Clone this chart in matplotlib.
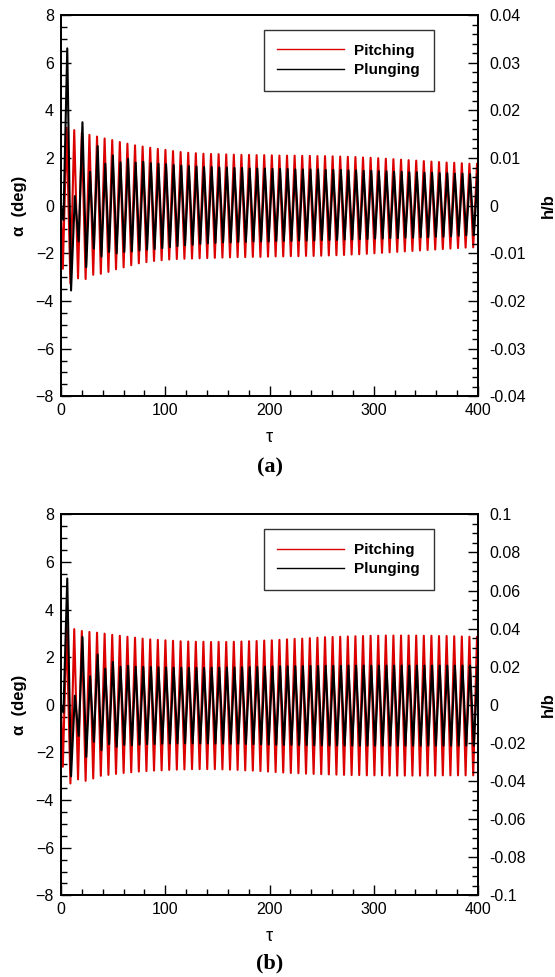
import numpy as np
import matplotlib
matplotlib.use("Agg")
import matplotlib.pyplot as plt
from matplotlib.ticker import MultipleLocator, FuncFormatter

plt.rcParams['font.family'] = ['Liberation Sans', 'DejaVu Sans']

# extrema: troughs/peaks alternate every half period
first_trough_tau = 1.75
half_period = 3.645
plunge_lag = 0.6

# ---- panel (a) ----
pitch_trough_a = [-2.65, -3.26, -3.05, -3.08, -2.90, -2.86, -2.78, -2.67, -2.59, -2.50,
                  -2.42, -2.37, -2.32, -2.29, -2.26, -2.24, -2.23, -2.22, -2.21, -2.20,
                  -2.19, -2.18, -2.17, -2.16, -2.16, -2.15, -2.15, -2.14, -2.13, -2.13,
                  -2.12, -2.12, -2.11, -2.11, -2.10, -2.09, -2.08, -2.07, -2.05, -2.04,
                  -2.02, -2.00, -1.98, -1.96, -1.94, -1.92, -1.90, -1.88, -1.86, -1.84,
                  -1.82, -1.80, -1.78, -1.76, -1.75]
pitch_peak_a = [3.27, 3.17, 3.05, 2.97, 2.90, 2.82, 2.75, 2.67, 2.60, 2.53,
                2.48, 2.43, 2.38, 2.34, 2.29, 2.25, 2.22, 2.20, 2.18, 2.17,
                2.16, 2.15, 2.14, 2.13, 2.13, 2.12, 2.12, 2.11, 2.10, 2.10,
                2.10, 2.09, 2.09, 2.08, 2.08, 2.07, 2.06, 2.05, 2.04, 2.02,
                2.01, 1.99, 1.97, 1.95, 1.93, 1.91, 1.89, 1.87, 1.85, 1.83,
                1.81, 1.80, 1.78, 1.76, 1.75]
plunge_trough_a = [-0.0030, -0.0178, -0.0075, -0.0129, -0.0090, -0.0107, -0.0097, -0.0100, -0.0097, -0.0096,
                   -0.0094, -0.0092, -0.0091, -0.0089, -0.0087, -0.0085, -0.0083, -0.0082, -0.0080, -0.0079,
                   -0.0078, -0.0077, -0.0077, -0.0076, -0.0076, -0.0075, -0.0075, -0.0075, -0.0074, -0.0074,
                   -0.0074, -0.0073, -0.0073, -0.0073, -0.0072, -0.0072, -0.0072, -0.0071, -0.0071, -0.0070,
                   -0.0070, -0.0069, -0.0069, -0.0068, -0.0068, -0.0067, -0.0067, -0.0066, -0.0066, -0.0065,
                   -0.0065, -0.0064, -0.0063, -0.0062, -0.0062]
plunge_peak_a = [0.0330, 0.0020, 0.0175, 0.0071, 0.0125, 0.0088, 0.0105, 0.0091, 0.0098, 0.0090,
                 0.0092, 0.0089, 0.0088, 0.0087, 0.0085, 0.0084, 0.0083, 0.0082, 0.0081, 0.0081,
                 0.0080, 0.0080, 0.0079, 0.0079, 0.0078, 0.0078, 0.0078, 0.0077, 0.0077, 0.0077,
                 0.0076, 0.0076, 0.0076, 0.0076, 0.0075, 0.0075, 0.0075, 0.0074, 0.0074, 0.0073,
                 0.0073, 0.0072, 0.0072, 0.0071, 0.0071, 0.0070, 0.0070, 0.0069, 0.0069, 0.0068,
                 0.0068, 0.0067, 0.0067, 0.0066, 0.0066]

# ---- panel (b) ----
pitch_trough_b = [-2.60, -3.30, -3.13, -3.19, -3.09, -2.98, -2.94, -2.90, -2.86, -2.83,
                  -2.80, -2.78, -2.76, -2.75, -2.73, -2.72, -2.71, -2.70, -2.70, -2.70,
                  -2.70, -2.71, -2.72, -2.73, -2.75, -2.76, -2.78, -2.80, -2.82, -2.84,
                  -2.86, -2.87, -2.89, -2.90, -2.91, -2.92, -2.93, -2.94, -2.95, -2.95,
                  -2.96, -2.96, -2.96, -2.97, -2.97, -2.97, -2.97, -2.97, -2.97, -2.97,
                  -2.96, -2.96, -2.96, -2.96, -2.96]
pitch_peak_b = [3.27, 3.18, 3.10, 3.06, 3.03, 2.99, 2.94, 2.90, 2.86, 2.82,
                2.78, 2.75, 2.73, 2.71, 2.69, 2.67, 2.66, 2.65, 2.65, 2.64,
                2.64, 2.64, 2.65, 2.66, 2.67, 2.68, 2.70, 2.71, 2.73, 2.75,
                2.77, 2.78, 2.80, 2.82, 2.84, 2.85, 2.86, 2.87, 2.88, 2.89,
                2.90, 2.90, 2.91, 2.91, 2.91, 2.91, 2.91, 2.90, 2.90, 2.89,
                2.89, 2.88, 2.87, 2.86, 2.85]
plunge_trough_b = [-0.0040, -0.0375, -0.0163, -0.0273, -0.0194, -0.0238, -0.0206, -0.0220, -0.0210, -0.0212,
                   -0.0208, -0.0206, -0.0205, -0.0204, -0.0203, -0.0202, -0.0202, -0.0202, -0.0202, -0.0202,
                   -0.0203, -0.0203, -0.0204, -0.0204, -0.0205, -0.0206, -0.0207, -0.0208, -0.0209, -0.0210,
                   -0.0210, -0.0211, -0.0211, -0.0212, -0.0212, -0.0213, -0.0213, -0.0213, -0.0214, -0.0214,
                   -0.0214, -0.0214, -0.0214, -0.0214, -0.0214, -0.0214, -0.0214, -0.0214, -0.0214, -0.0214,
                   -0.0214, -0.0214, -0.0214, -0.0214, -0.0214]
plunge_peak_b = [0.0663, 0.0048, 0.0356, 0.0150, 0.0264, 0.0190, 0.0225, 0.0200, 0.0205, 0.0200,
                 0.0199, 0.0198, 0.0197, 0.0196, 0.0195, 0.0195, 0.0194, 0.0194, 0.0194, 0.0195,
                 0.0195, 0.0196, 0.0196, 0.0197, 0.0198, 0.0199, 0.0200, 0.0201, 0.0202, 0.0202,
                 0.0203, 0.0203, 0.0204, 0.0204, 0.0205, 0.0205, 0.0205, 0.0206, 0.0206, 0.0206,
                 0.0206, 0.0206, 0.0206, 0.0206, 0.0206, 0.0206, 0.0206, 0.0206, 0.0206, 0.0206,
                 0.0206, 0.0206, 0.0206, 0.0206, 0.0206]

RED = '#dd0000'


def series(troughs, peaks, lag):
    vals = np.empty(len(troughs) + len(peaks))
    vals[0::2] = troughs
    vals[1::2] = peaks
    tau = first_trough_tau + lag + half_period * np.arange(len(vals))
    return np.concatenate([[0.0], tau]), np.concatenate([[0.0], vals])


def fmt(v, pos):
    v = round(v, 6) + 0.0
    return '%g' % v


def panel(ax, pt, pp, bt, bp, hb_lim, hb_major, hb_minor):
    ax2 = ax.twinx()
    t, a = series(pt, pp, 0.0)
    l1, = ax.plot(t, a, color=RED, lw=1.5, label='Pitching', zorder=2)
    t, h = series(bt, bp, plunge_lag)
    l2, = ax2.plot(t, h, color='black', lw=1.5, label='Plunging', zorder=3)

    ax.set_xlim(0, 400)
    ax.set_ylim(-8, 8)
    ax2.set_ylim(-hb_lim, hb_lim)
    ax.xaxis.set_major_locator(MultipleLocator(100))
    ax.xaxis.set_minor_locator(MultipleLocator(20))
    ax.yaxis.set_major_locator(MultipleLocator(2))
    ax.yaxis.set_minor_locator(MultipleLocator(0.5))
    ax2.yaxis.set_major_locator(MultipleLocator(hb_major))
    ax2.yaxis.set_minor_locator(MultipleLocator(hb_minor))
    ax2.yaxis.set_major_formatter(FuncFormatter(fmt))

    ax.tick_params(which='both', direction='in', top=False, right=False, labelsize=11.5, width=1.0)
    ax.tick_params(which='major', length=7, pad=5)
    ax.tick_params(which='minor', length=4)
    ax2.tick_params(which='both', direction='in', labelsize=11.5, width=1.0)
    ax2.tick_params(which='major', length=7, pad=8)
    ax2.tick_params(which='minor', length=4)
    for a_ in (ax, ax2):
        for s in a_.spines.values():
            s.set_linewidth(1.3)

    ax.set_ylabel('α  (deg)', fontsize=12, fontweight='bold', labelpad=6)
    ax2.set_ylabel('h/b', fontsize=12, fontweight='bold', rotation=90, va='center')
    ax2.yaxis.set_label_coords((548 - 61) / 417, 0.5)
    ax.set_xlabel('τ', fontsize=13, labelpad=8)

    leg = ax2.legend([l1, l2], ['Pitching', 'Plunging'], loc='upper right',
                     bbox_to_anchor=(0.894, 0.961), borderaxespad=0,
                     prop={'weight': 'bold', 'size': 11}, frameon=True, fancybox=False,
                     handlelength=4.4, handletextpad=0.65, labelspacing=0.35,
                     borderpad=0.9)
    leg.get_frame().set_edgecolor('black')
    leg.get_frame().set_linewidth(1.0)
    for ln in leg.get_lines():
        ln.set_linewidth(1.0)
    return ax2


fig = plt.figure(figsize=(5.55, 9.77), dpi=100)
ax_a = fig.add_axes([61 / 555, 1 - 396.3 / 977, 417 / 555, 381.3 / 977])
ax_b = fig.add_axes([61 / 555, 1 - 895.4 / 977, 417 / 555, 381.1 / 977])

panel(ax_a, pitch_trough_a, pitch_peak_a, plunge_trough_a, plunge_peak_a, 0.04, 0.01, 0.002)
panel(ax_b, pitch_trough_b, pitch_peak_b, plunge_trough_b, plunge_peak_b, 0.1, 0.02, 0.005)

fig.text(269.5 / 555, 1 - 467 / 977, '(a)', ha='center', va='center',
         family='Liberation Serif', fontweight='bold', fontsize=16)
fig.text(269.5 / 555, 1 - 963 / 977, '(b)', ha='center', va='center',
         family='Liberation Serif', fontweight='bold', fontsize=16)

fig.savefig('out.png', dpi=100)
